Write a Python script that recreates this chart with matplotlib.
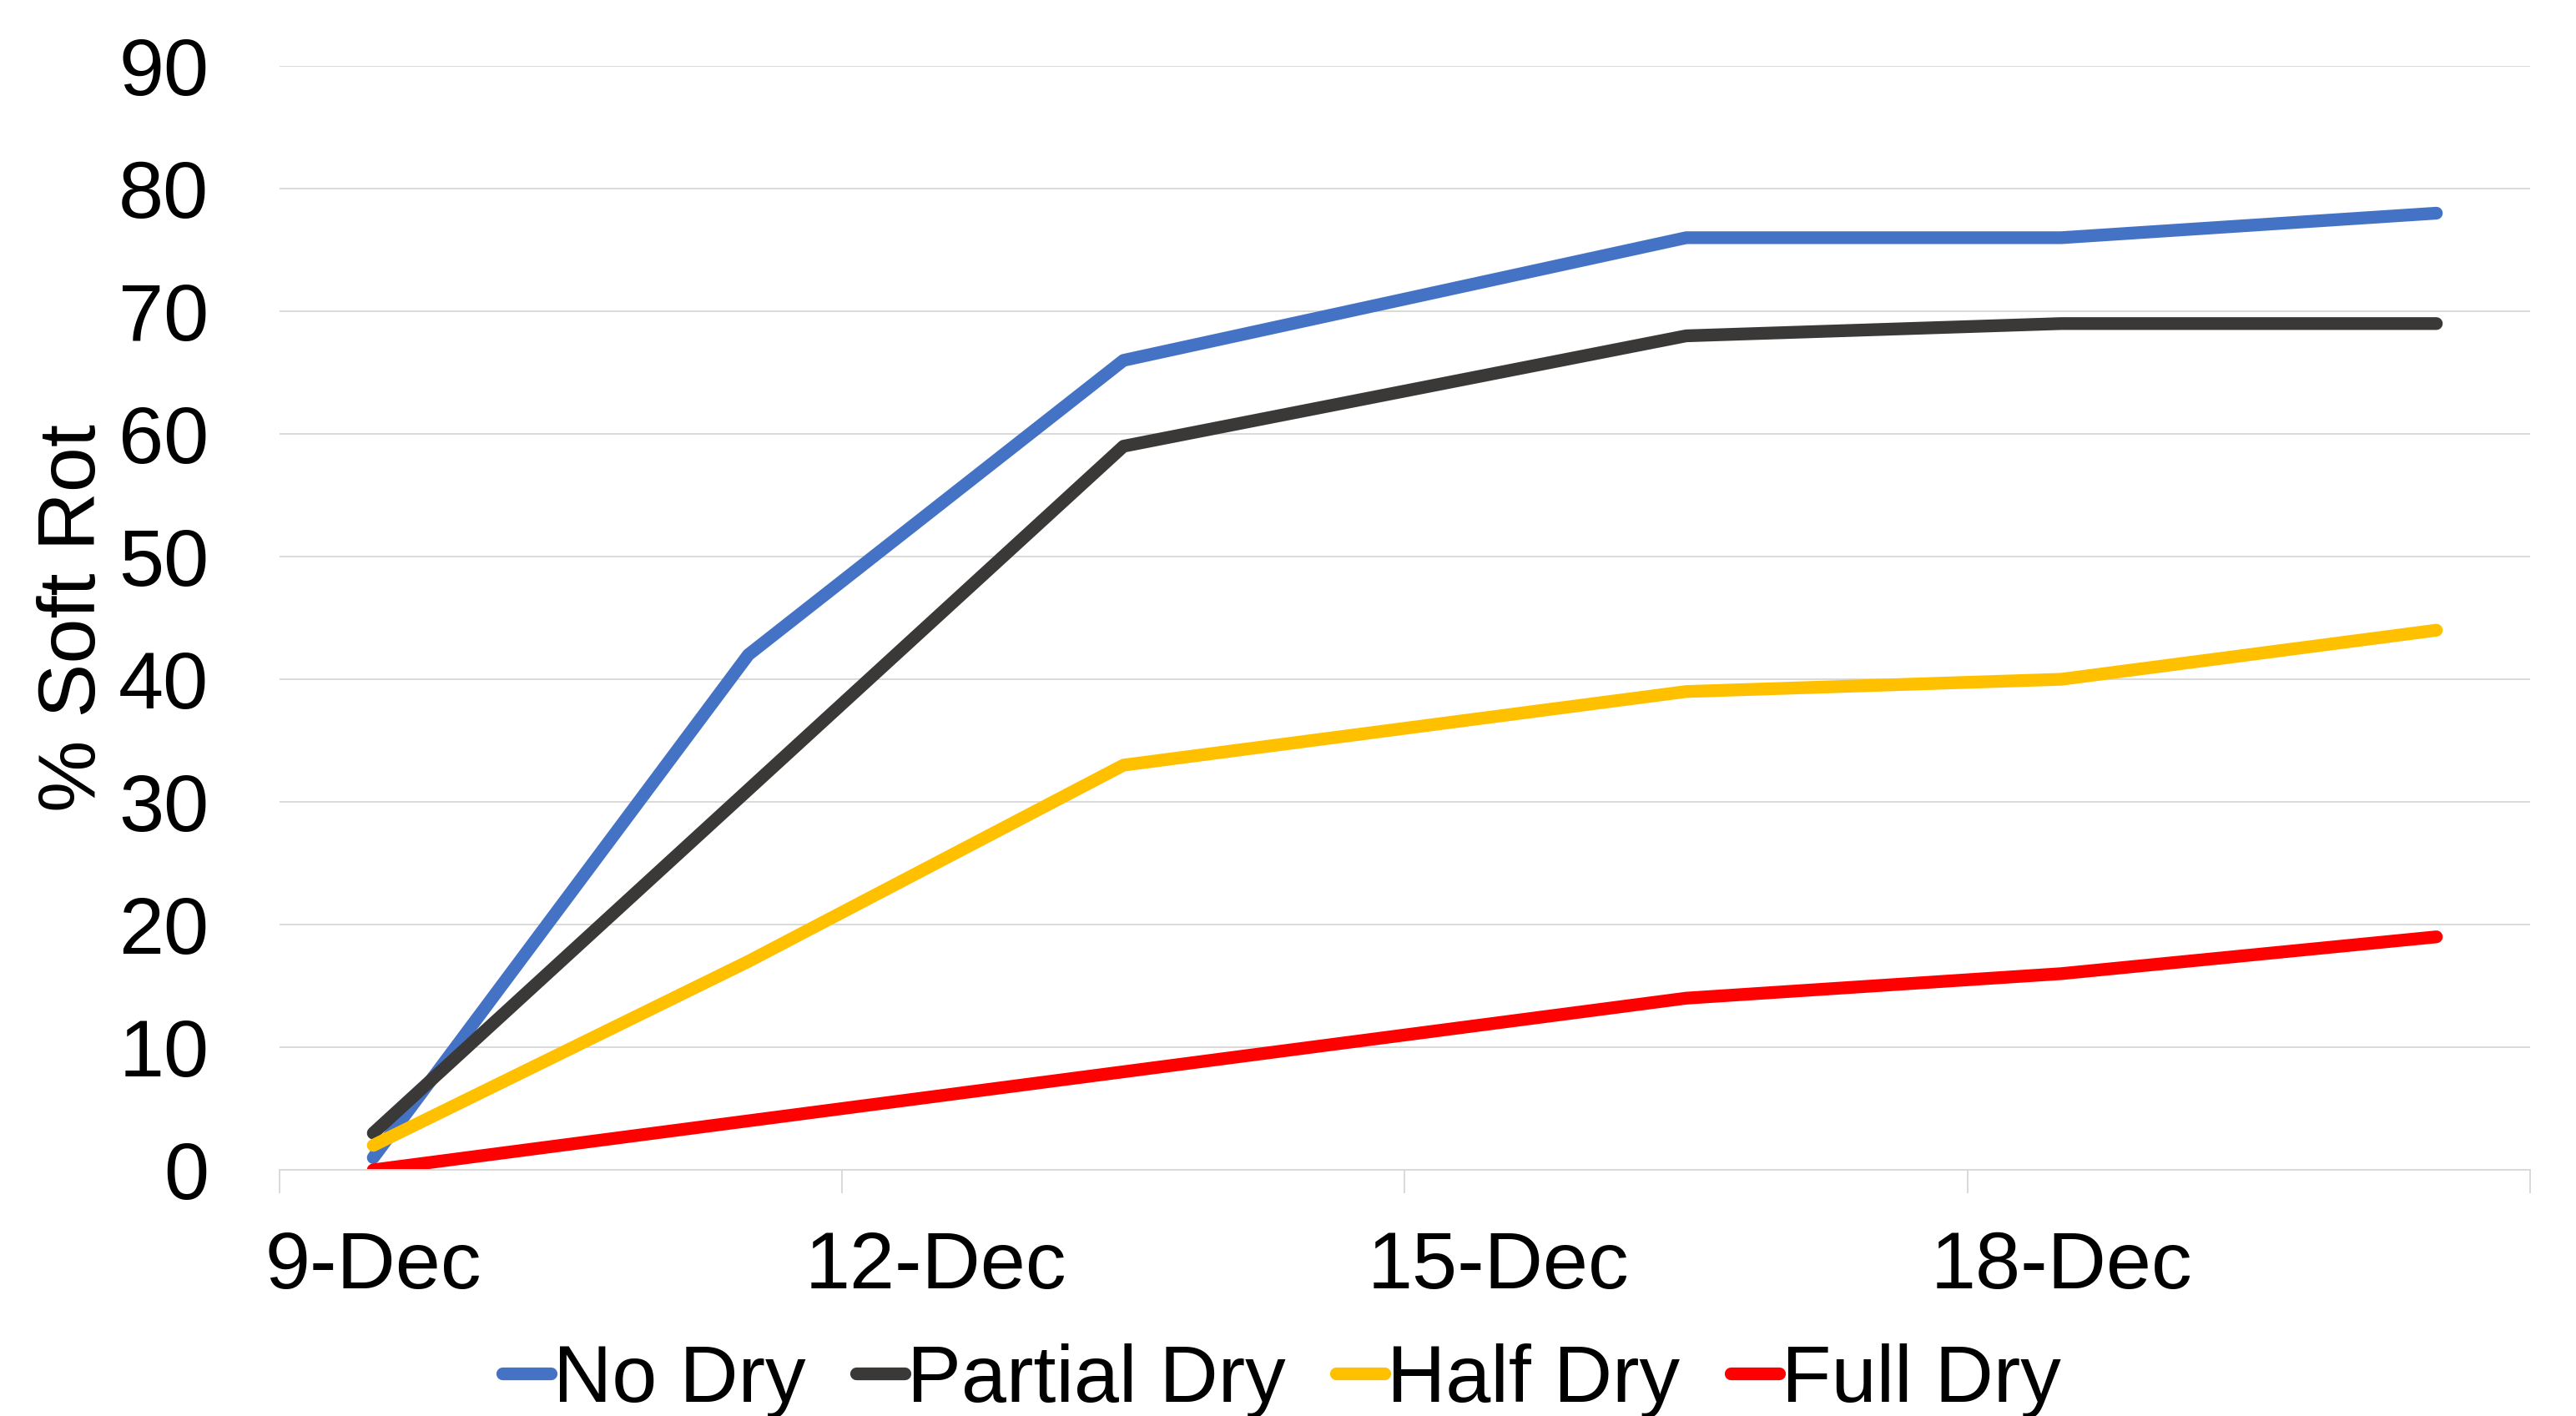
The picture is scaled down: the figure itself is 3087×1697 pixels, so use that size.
import matplotlib.pyplot as plt
import numpy as np
from matplotlib.ticker import FuncFormatter

plt.rcParams['font.family'] = ['Liberation Sans', 'DejaVu Sans']

# days of December when soft rot was scored
DAYS = [9, 11, 13, 16, 18, 20]

NO_DRY = [1, 42, 66, 76, 76, 78]
PARTIAL_DRY = [3, np.nan, 59, 68, 69, 69]
HALF_DRY = [2, 17, 33, 39, 40, 44]
FULL_DRY = [0, np.nan, np.nan, 14, 16, 19]

SERIES_NAMES = ['No Dry', 'Partial Dry', 'Half Dry', 'Full Dry']
COLORS = ['#4472C4', '#3B3838', '#FFC000', '#FF0000']

Y_TICKS = np.arange(0, 100, 10)
X_LABEL_DAYS = [9, 12, 15, 18]
X_TICK_MARKS = [8.5, 11.5, 14.5, 17.5, 20.5]

GRID_COLOR = '#D9D9D9'
FONT_SIZE = 70


def plotSoftRot():
    fig = plt.figure(figsize=(30.87, 16.97), dpi=100)
    ax = fig.add_axes([0.1085, 0.1738, 0.8737, 0.7796])

    days = np.array(DAYS)
    allSeries = [NO_DRY, PARTIAL_DRY, HALF_DRY, FULL_DRY]
    for name, values, color in zip(SERIES_NAMES, allSeries, COLORS):
        y = np.array(values, dtype=float)
        ok = ~np.isnan(y)  # skipped days, line just connects over them
        ax.plot(days[ok], y[ok], color=color, lw=11, label=name,
                solid_capstyle='round', solid_joinstyle='round')

    ax.set_xlim(X_TICK_MARKS[0], X_TICK_MARKS[-1])
    ax.set_ylim(0, 90)
    ax.set_yticks(Y_TICKS)
    ax.yaxis.grid(True, color=GRID_COLOR, lw=1.4)
    ax.set_axisbelow(True)

    for side in ['top', 'right', 'left']:
        ax.spines[side].set_visible(False)
    ax.spines['bottom'].set_color(GRID_COLOR)
    ax.spines['bottom'].set_linewidth(1.4)

    ax.set_xticks(X_LABEL_DAYS)
    ax.xaxis.set_major_formatter(FuncFormatter(lambda x, pos: f'{int(x)}-Dec'))
    ax.set_xticks(X_TICK_MARKS, minor=True)
    ax.tick_params(axis='x', which='major', length=0, pad=52, labelsize=FONT_SIZE)
    ax.tick_params(axis='x', which='minor', length=20, width=1.4, color=GRID_COLOR)
    ax.tick_params(axis='y', length=0, pad=61, labelsize=FONT_SIZE)

    ax.set_ylabel('% Soft Rot', fontsize=FONT_SIZE, labelpad=6)

    fig.legend(loc='center', bbox_to_anchor=(0.4975, 0.025), ncol=4, frameon=False,
               fontsize=FONT_SIZE, handlelength=0.6, handletextpad=0.03,
               columnspacing=0.62, borderaxespad=0)

    plt.savefig('out.png', dpi=100)


if __name__ == "__main__":
    plotSoftRot()
